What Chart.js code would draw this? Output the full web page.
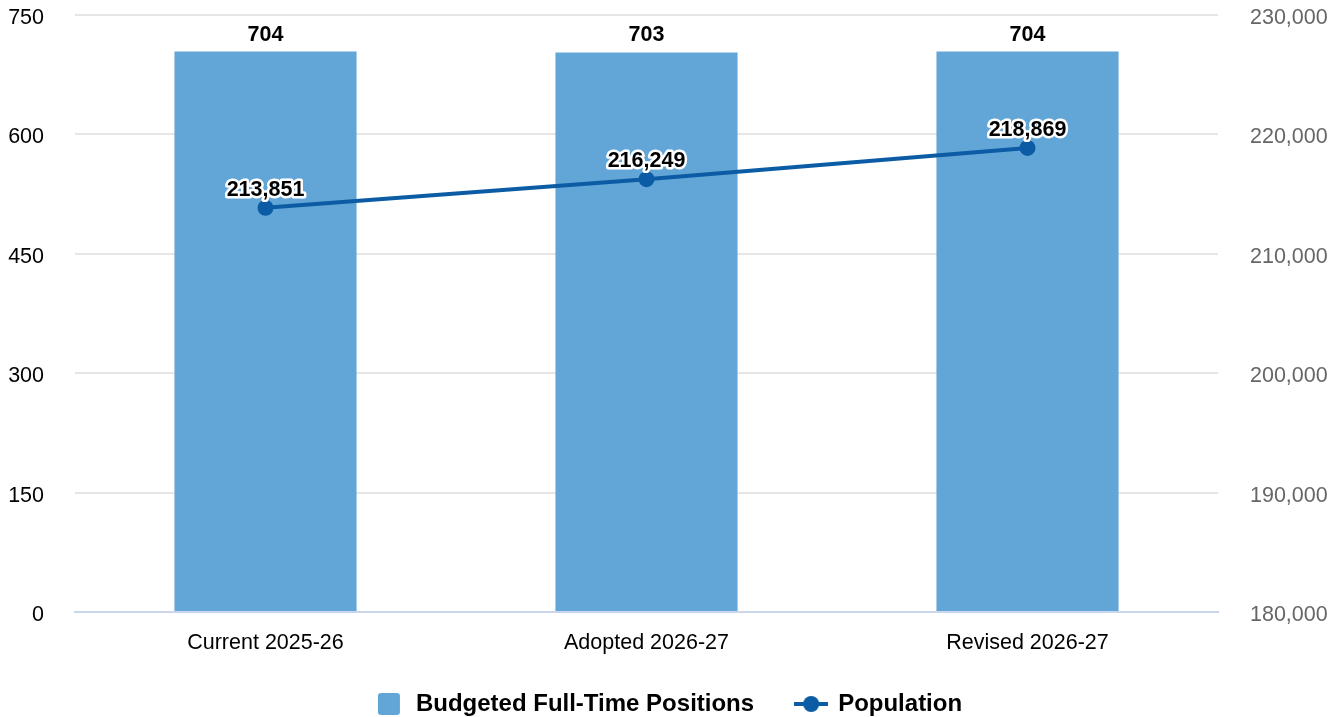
<!DOCTYPE html>
<html>
<head>
<meta charset="utf-8">
<script src="https://cdn.jsdelivr.net/npm/chart.js@4/dist/chart.umd.min.js"></script>
<style>
  html, body { margin: 0; padding: 0; background: #ffffff; }
  #wrap { width: 1343px; height: 717px; position: relative; }
</style>
</head>
<body>
<div id="wrap"><canvas id="c" width="1343" height="717"></canvas></div>
<script>
const categories = ["Current 2025-26", "Adopted 2026-27", "Revised 2026-27"];
const positions = [704, 703, 704];
const population = [213851, 216249, 218869];
const leftTicks = [0, 150, 300, 450, 600, 750];
const rightTicks = [180000, 190000, 200000, 210000, 220000, 230000];
const seriesNames = ["Budgeted Full-Time Positions", "Population"];

const BAR_COLOR = "#62a6d8";
const LINE_COLOR = "#0b5ca5";
const FONT = "'Liberation Sans', Arial, Helvetica, sans-serif";

function fmt(n) { return n.toLocaleString("en-US"); }

// legend symbols
function barSymbol() {
  const c = document.createElement("canvas");
  c.width = 30; c.height = 24;
  const g = c.getContext("2d");
  g.fillStyle = BAR_COLOR;
  const x = 4, y = 1, w = 22, h = 22, r = 3;
  g.beginPath();
  g.moveTo(x + r, y); g.lineTo(x + w - r, y); g.quadraticCurveTo(x + w, y, x + w, y + r);
  g.lineTo(x + w, y + h - r); g.quadraticCurveTo(x + w, y + h, x + w - r, y + h);
  g.lineTo(x + r, y + h); g.quadraticCurveTo(x, y + h, x, y + h - r);
  g.lineTo(x, y + r); g.quadraticCurveTo(x, y, x + r, y);
  g.fill();
  return c;
}
function lineSymbol() {
  const c = document.createElement("canvas");
  c.width = 34; c.height = 24;
  const g = c.getContext("2d");
  g.strokeStyle = LINE_COLOR; g.lineWidth = 4;
  g.beginPath(); g.moveTo(0, 12); g.lineTo(34, 12); g.stroke();
  g.fillStyle = LINE_COLOR;
  g.beginPath(); g.arc(17, 12, 8, 0, Math.PI * 2); g.fill();
  return c;
}
const symBar = barSymbol();
const symLine = lineSymbol();

const dataLabels = {
  id: "dataLabels",
  afterDatasetsDraw(chart) {
    const ctx = chart.ctx;
    ctx.save();
    ctx.font = "bold 21.5px " + FONT;
    ctx.textAlign = "center";
    ctx.textBaseline = "alphabetic";
    chart.data.datasets.forEach((ds, di) => {
      const meta = chart.getDatasetMeta(di);
      meta.data.forEach((el, i) => {
        const txt = fmt(ds.data[i]);
        if (ds.type === "bar") {
          ctx.fillStyle = "#000";
          ctx.fillText(txt, el.x, el.y - 11);
        } else {
          const y = el.y - 12;
          ctx.lineJoin = "round";
          ctx.lineWidth = 5;
          ctx.strokeStyle = "#ffffff";
          ctx.strokeText(txt, el.x, y);
          ctx.fillStyle = "#000";
          ctx.fillText(txt, el.x, y);
        }
      });
    });
    ctx.restore();
  }
};

const legendShift = {
  id: "legendShift",
  afterLayout(chart) {
    if (chart.legend) {
      chart.legend.top -= 5;
      chart.legend.left -= 3.5;
      chart.legend.right -= 3.5;
    }
  }
};

function noVPad(scale) { scale.paddingTop = 0; scale.paddingBottom = 0; }

new Chart(document.getElementById("c"), {
  data: {
    labels: categories,
    datasets: [
      {
        type: "bar",
        label: seriesNames[0],
        data: positions,
        backgroundColor: BAR_COLOR,
        borderWidth: 0,
        yAxisID: "y",
        categoryPercentage: 1.0,
        barPercentage: 0.478,
        order: 1
      },
      {
        type: "line",
        label: seriesNames[1],
        data: population,
        borderColor: LINE_COLOR,
        backgroundColor: LINE_COLOR,
        borderWidth: 4,
        pointRadius: 8,
        pointHoverRadius: 8,
        pointBackgroundColor: LINE_COLOR,
        pointBorderWidth: 0,
        tension: 0,
        yAxisID: "y1",
        order: 0
      }
    ]
  },
  options: {
    responsive: false,
    animation: false,
    maintainAspectRatio: false,
    layout: { padding: { top: 15, left: 0, right: 0, bottom: 0 } },
    plugins: {
      tooltip: { enabled: false },
      legend: {
        position: "bottom",
        maxHeight: 62,
        labels: {
          usePointStyle: true,
          pointStyleWidth: 30,
          boxHeight: 22,
          padding: 42,
          color: "#000",
          font: { family: FONT, size: 24, weight: "bold" },
          generateLabels(chart) {
            return [
              { text: seriesNames[0], pointStyle: symBar, fillStyle: BAR_COLOR, strokeStyle: BAR_COLOR, lineWidth: 0, datasetIndex: 0, fontColor: "#000" },
              { text: seriesNames[1], pointStyle: symLine, fillStyle: LINE_COLOR, strokeStyle: LINE_COLOR, lineWidth: 0, datasetIndex: 1, fontColor: "#000" }
            ];
          }
        }
      }
    },
    scales: {
      x: {
        afterFit(scale) { scale.height = 43; scale.paddingLeft = 0; scale.paddingRight = 0; },
        grid: { display: false, drawTicks: false },
        border: { display: true, color: "#ccd6eb", width: 2 },
        ticks: { color: "#000", padding: 18, font: { family: FONT, size: 21.5 } }
      },
      y: {
        position: "left",
        min: 0, max: 750,
        afterBuildTicks(scale) { scale.ticks = leftTicks.map(v => ({ value: v })); },
        afterFit(scale) { scale.width = 75; noVPad(scale); },
        grid: { color: "#e6e6e6", lineWidth: 2, drawTicks: false },
        border: { display: false },
        ticks: { color: "#000", padding: 31, labelOffset: 3, font: { family: FONT, size: 21.5 }, callback: v => fmt(v) }
      },
      y1: {
        position: "right",
        min: 180000, max: 230000,
        afterBuildTicks(scale) { scale.ticks = rightTicks.map(v => ({ value: v })); },
        afterFit(scale) { scale.width = 125; noVPad(scale); },
        grid: { display: false, drawTicks: false },
        border: { display: false },
        ticks: { color: "#666666", padding: 32, labelOffset: 3, font: { family: FONT, size: 21.5 }, callback: v => fmt(v) }
      }
    }
  },
  plugins: [dataLabels, legendShift]
});
</script>
</body>
</html>
